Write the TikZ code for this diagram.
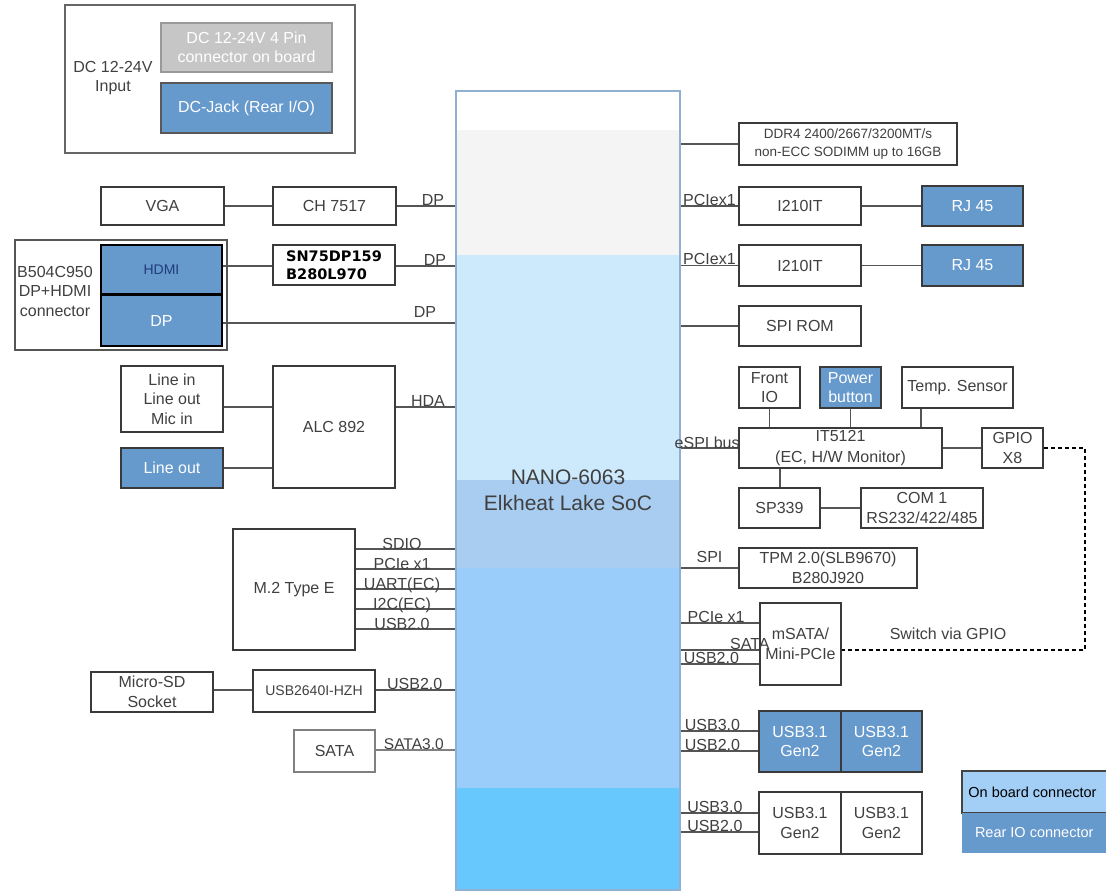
\documentclass[tikz,border=0pt]{standalone}
\usepackage{fontspec}
\setmainfont{Liberation Sans}
\newfontfamily\snfont{DejaVu Sans}
\usetikzlibrary{calc}
\definecolor{rearblue}{HTML}{6699CC}
\definecolor{txt}{HTML}{404040}
\definecolor{edge}{HTML}{3A3A3A}
\definecolor{wirec}{HTML}{555555}
\definecolor{socA}{HTML}{CDEAFC}
\definecolor{socB}{HTML}{A9CDF0}
\definecolor{socC}{HTML}{9BCDFB}
\definecolor{socD}{HTML}{66C8FC}
\definecolor{socedge}{HTML}{8FB0D0}
\definecolor{grpedge}{HTML}{555555}
\definecolor{hdmitxt}{HTML}{1F3C7A}
\definecolor{legedge}{HTML}{444444}
\definecolor{legfill}{HTML}{A3CFF7}
\begin{document}
\begin{tikzpicture}[x=1pt,y=-1pt,
  every node/.style={font=\fontsize{16}{19.5}\selectfont, text=txt},
  box/.style={draw=edge, line width=1.6pt, fill=white, inner sep=0pt, align=center},
  rearbox/.style={box, fill=rearblue, text=white},
  wire/.style={draw=wirec, line width=1.1pt},
  lab/.style={font=\fontsize{16}{18}\selectfont, text=txt, anchor=base, inner sep=0pt, yshift=0.5pt},
  gpioline/.style={line width=2.6pt, dash pattern=on 4pt off 3pt, draw=black}
]
\clip (0,0) rectangle (1106,893);
\fill[white] (0,0) rectangle (1106,893);

% ---------- power input ----------
\node[draw=gray!80!black, line width=1.6pt, minimum width=290pt, minimum height=148pt, inner sep=0pt] (pwr) at (210,79) {};
\node[align=center] (pwrtxt) at (113,78) {DC 12-24V\\Input};
\node[box, fill=gray!45, draw=gray!80, text=white, minimum width=171pt, minimum height=49pt] (dc4) at (246.5,47.5) {DC 12-24V 4 Pin\\connector on board};
\node[rearbox, draw=gray!70!black, minimum width=171pt, minimum height=50pt] (dcjack) at (246.5,108) {DC-Jack (Rear I/O)};

% ---------- SoC ----------
\fill[white] (456,91) rectangle (680,130);
\fill[gray!9] (456,130) rectangle (680,255);
\fill[socA] (456,255) rectangle (680,480);
\fill[socB] (456,480) rectangle (680,568);
\fill[socC] (456,568) rectangle (680,788);
\fill[socD] (456,788) rectangle (680,890);
\node[draw=socedge, line width=1.5pt, minimum width=224pt, minimum height=799pt, inner sep=0pt, align=center,
      font=\fontsize{21}{26}\selectfont] (soc) at (568,490.5) {NANO-6063\\Elkheat Lake SoC};

% ---------- left side ----------
\node[box, minimum width=123pt, minimum height=38pt] (vga) at (162.5,206) {VGA};
\node[box, minimum width=123pt, minimum height=38pt] (ch) at (334.5,206) {CH 7517};

\node[draw=grpedge, line width=2.2pt, fill=white, minimum width=212pt, minimum height=110pt, inner sep=0pt] (hdgrp) at (121,295) {};
\node[align=center] (b504) at (55,291) {B504C950\\DP+HDMI\\connector};
\node[rearbox, draw=black, line width=2pt, text=hdmitxt, font=\fontsize{14}{16}\selectfont, minimum width=121pt, minimum height=49pt] (hdmi) at (161.5,269.5) {HDMI};
\node[rearbox, draw=black, line width=2pt, minimum width=121pt, minimum height=51pt] (dp) at (161.5,320.5) {DP};
\node[box, minimum width=122pt, minimum height=40pt, text=black, font=\snfont\bfseries\fontsize{14.5}{18}\selectfont, align=left] (sn) at (334,265) {SN75DP159\\B280L970};

\node[box, minimum width=102pt, minimum height=66pt] (linein) at (172,399) {Line in\\Line out\\Mic in};
\node[rearbox, minimum width=102pt, minimum height=40pt] (lineout) at (172,468) {Line out};
\node[box, minimum width=122pt, minimum height=122pt] (alc) at (334,427) {ALC 892};

\node[box, minimum width=122pt, minimum height=121pt] (m2) at (294,589.5) {M.2 Type E};
\node[box, minimum width=122pt, minimum height=40pt] (msd) at (152,692) {Micro-SD\\Socket};
\node[box, minimum width=122pt, minimum height=42pt, font=\fontsize{14}{16}\selectfont] (hub) at (314,691) {USB2640I-HZH};
\node[box, draw=gray, line width=1.1pt, minimum width=81pt, minimum height=42pt] (sata) at (334.5,751) {SATA};

% left connectors
\draw[wire] (vga.east) -- (ch.west);
\draw[wire] (ch.east) -- (ch.east -| soc.west) node[lab, pos=0.62]{DP};
\draw[wire] (hdmi.east |- 0,266) -- (sn.west |- 0,266);
\draw[wire] (sn.east |- 0,266) -- (soc.west |- 0,266) node[lab, pos=0.66]{DP};
\draw[wire] (dp.east |- 0,323) -- (soc.west |- 0,323) node[lab, pos=0.87, yshift=5pt]{DP};
\draw[wire] (linein.east |- 0,407) -- (alc.west |- 0,407);
\draw[wire] (lineout.east) -- (lineout.east -| alc.west);
\draw[wire] (alc.east |- 0,407) -- (soc.west |- 0,407) node[lab, pos=0.54]{HDA};
\draw[wire] (m2.east |- 0,549) -- (soc.west |- 0,549) node[lab, pos=0.465, yshift=-0.5pt]{SDIO};
\draw[wire] (m2.east |- 0,569) -- (soc.west |- 0,569) node[lab, pos=0.465, yshift=-0.5pt]{PCIe x1};
\draw[wire] (m2.east |- 0,589) -- (soc.west |- 0,589) node[lab, pos=0.465, yshift=-0.5pt]{UART(EC)};
\draw[wire] (m2.east |- 0,609) -- (soc.west |- 0,609) node[lab, pos=0.465, yshift=-0.5pt]{I2C(EC)};
\draw[wire] (m2.east |- 0,629) -- (soc.west |- 0,629) node[lab, pos=0.465, yshift=-0.5pt]{USB2.0};
\draw[wire] (msd.east |- 0,690) -- (hub.west |- 0,690);
\draw[wire] (hub.east |- 0,690) -- (soc.west |- 0,690) node[lab, pos=0.49]{USB2.0};
\draw[wire, draw=gray] (sata.east |- 0,750) -- (soc.west |- 0,750) node[lab, pos=0.48, font=\fontsize{15.5}{18}\selectfont]{SATA3.0};

% ---------- right side ----------
\node[box, minimum width=218pt, minimum height=42pt, font=\fontsize{13.5}{18}\selectfont] (ddr) at (848,144) {DDR4 2400/2667/3200MT/s\\non-ECC SODIMM up to 16GB};
\node[box, minimum width=122pt, minimum height=38pt] (i1) at (800,206) {I210IT};
\node[rearbox, minimum width=101pt, minimum height=40pt] (rj1) at (972.5,206) {RJ 45};
\node[box, minimum width=122pt, minimum height=41pt] (i2) at (800,265.5) {I210IT};
\node[rearbox, minimum width=101pt, minimum height=41pt] (rj2) at (972.5,265.5) {RJ 45};
\node[box, minimum width=122pt, minimum height=40pt] (spirom) at (800,326) {SPI ROM};
\node[box, minimum width=61pt, minimum height=41pt] (front) at (769.5,387.5) {Front\\IO};
\node[rearbox, minimum width=61pt, minimum height=41pt] (power) at (850.5,387.5) {Power\\button};
\node[box, minimum width=111pt, minimum height=41pt] (temp) at (957.5,387.5) {Temp. Sensor};
\node[box, minimum width=203pt, minimum height=40pt, font=\fontsize{16}{21}\selectfont] (it) at (840.5,448) {IT5121\\(EC, H/W Monitor)};
\node[box, minimum width=61pt, minimum height=40pt] (gpio) at (1012.5,448) {GPIO\\X8};
\node[box, minimum width=81pt, minimum height=40pt] (sp) at (779.5,508) {SP339};
\node[box, minimum width=122pt, minimum height=40pt] (com) at (922,508) {COM 1\\RS232/422/485};
\node[box, minimum width=178pt, minimum height=40pt] (tpm) at (828,568) {TPM 2.0(SLB9670)\\B280J920};
\node[box, line width=1.3pt, minimum width=81pt, minimum height=82pt] (msata) at (800.5,644) {mSATA/\\Mini-PCIe};
\node[rearbox, minimum width=82pt, minimum height=61pt] (ua) at (800,741.5) {USB3.1\\Gen2};
\node[rearbox, minimum width=81pt, minimum height=61pt] (ub) at (881.5,741.5) {USB3.1\\Gen2};
\node[box, minimum width=82pt, minimum height=62pt] (wa) at (800,823) {USB3.1\\Gen2};
\node[box, minimum width=81pt, minimum height=62pt] (wb) at (881.5,823) {USB3.1\\Gen2};

% legend
\node[draw=legedge, line width=1.6pt, fill=legfill, minimum width=170pt, minimum height=42pt, inner sep=0pt] (leg1) at (1047,792) {};
\node[text=black, anchor=west, inner sep=0pt, font=\fontsize{14.5}{17}\selectfont] (leg1t) at ([xshift=7pt]leg1.west) {On board connector};
\node[fill=rearblue, minimum width=170pt, minimum height=40pt, inner sep=0pt] (leg2) at (1047,833) {};
\node[text=white, anchor=west, inner sep=0pt, font=\fontsize{14.5}{17}\selectfont] (leg2t) at ([xshift=13pt]leg2.west) {Rear IO connector};

% right connectors
\draw[wire] (ddr.west) -- (ddr.west -| soc.east);
\draw[wire] (soc.east |- i1.west) -- (i1.west) node[lab, pos=0.5]{PCIex1};
\draw[wire] (i1.east) -- (rj1.west);
\draw[wire] (soc.east |- i2.west) -- (i2.west) node[lab, pos=0.5]{PCIex1};
\draw[wire] (i2.east) -- (rj2.west);
\draw[wire] (soc.east |- spirom.west) -- (spirom.west);
\draw[wire] (front.south) -- (front.south |- it.north);
\draw[wire] (power.south) -- (power.south |- it.north);
\draw[wire] (temp.south -| 921,0) -- (it.north -| 921,0);
\draw[wire] (soc.east |- it.west) -- (it.west) node[lab, pos=0.46, yshift=-1pt]{eSPI bus};
\draw[wire] (it.east) -- (gpio.west);
\draw[wire] (it.south -| 780,0) -- (sp.north -| 780,0);
\draw[wire] (sp.east) -- (com.west);
\draw[wire] (soc.east |- tpm.west) -- (tpm.west) node[lab, pos=0.5, yshift=5pt]{SPI};
\draw[wire] (soc.east |- 0,623) -- (msata.west |- 0,623) node[lab, pos=0.45]{PCIe x1};
\draw[wire] (soc.east |- 0,650) -- (msata.west |- 0,650) node[lab, pos=0.88]{SATA};
\draw[wire] (soc.east |- 0,664) -- (msata.west |- 0,664) node[lab, pos=0.39]{USB2.0};
\draw[wire] (soc.east |- 0,731) -- (ua.west |- 0,731) node[lab, pos=0.41]{USB3.0};
\draw[wire] (soc.east |- 0,751) -- (ua.west |- 0,751) node[lab, pos=0.41]{USB2.0};
\draw[wire] (soc.east |- 0,813) -- (wa.west |- 0,813) node[lab, pos=0.44]{USB3.0};
\draw[wire] (soc.east |- 0,832) -- (wa.west |- 0,832) node[lab, pos=0.44]{USB2.0};

% GPIO switch line
\coordinate (gc1) at (1085,448);
\coordinate (gc2) at (1085,650);
\draw[gpioline] (gpio.east) -- (gc1) -- (gc2) -- (msata.east |- gc2);
\node (sw) at (948,634) {Switch via GPIO};
\end{tikzpicture}
\end{document}
